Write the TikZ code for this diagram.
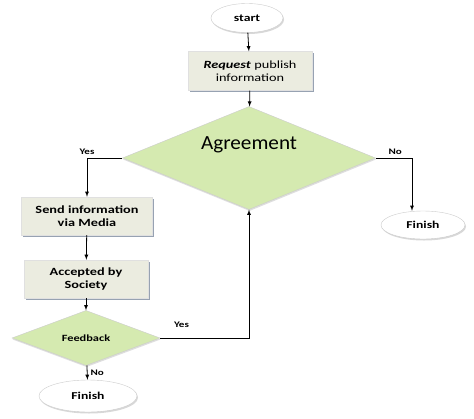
\documentclass[tikz,border=0pt]{standalone}
\usepackage{fontspec}
\setmainfont{Carlito}
\newfontfamily\widefont[FakeStretch=1.3]{Carlito}
\newfontfamily\agreefont[FakeStretch=1.06]{Carlito}
\usetikzlibrary{shapes.geometric,shadows}
\definecolor{diagreen}{RGB}{213,234,176}
\definecolor{boxgrey}{RGB}{235,236,224}
\definecolor{shadowblue}{RGB}{140,152,170}
\tikzstyle{terminal}=[ellipse, draw=black!20, fill=white, inner sep=0pt, drop shadow={shadow xshift=1pt, shadow yshift=-1.5pt, fill=black!30}, font=\widefont\bfseries\fontsize{10.5}{12}\selectfont]
\tikzstyle{process}=[rectangle, draw=black!12, fill=boxgrey, inner sep=0pt, align=center, drop shadow={shadow xshift=1.5pt, shadow yshift=-1.5pt, fill=shadowblue, opacity=0.9}, font=\widefont\bfseries\fontsize{11}{12.5}\selectfont]
\tikzstyle{decision}=[diamond, draw=black!20, fill=diagreen, inner sep=0pt, drop shadow={shadow xshift=0.5pt, shadow yshift=-1.5pt, fill=black!25}]
\tikzstyle{flow}=[draw, thick, -latex]
\tikzstyle{answer}=[font=\widefont\bfseries\fontsize{8.5}{10}\selectfont, inner sep=1pt]

\begin{document}
\begin{tikzpicture}[x=1pt, y=-1pt]
    \fill[white] (0,0) rectangle (474,418);
    \useasboundingbox (0,0) rectangle (474,418);
    % terminals and boxes
    \node[terminal, minimum width=72pt, minimum height=29pt] (start) at (247,18) {start};
    \node[process, minimum width=124pt, minimum height=39pt, font=\widefont\fontsize{11}{12.5}\selectfont] (request) at (250,71) {\textit{\textbf{Request}} publish\\information};
    \node[decision, minimum width=253pt, minimum height=103pt,
          label={[yshift=13pt, font=\agreefont\fontsize{20}{24}\selectfont]center:Agreement}] (agree) at (249,158) {};
    \node[terminal, minimum width=84pt, minimum height=28pt] (finishA) at (423,225) {Finish};
    \node[process, minimum width=131pt, minimum height=38pt] (send) at (87,216) {Send information\\via Media};
    \node[process, minimum width=124pt, minimum height=38pt] (accept) at (86,279) {Accepted by\\Society};
    \node[decision, minimum width=148pt, minimum height=44pt, font=\widefont\bfseries\fontsize{9.5}{11}\selectfont] (feedback) at (86,338) {Feedback};
    \node[terminal, minimum width=98pt, minimum height=32pt] (finishB) at (88,396) {Finish};
    % straight arrows
    \foreach \source/\dest in {start/request, request/agree, send/accept, accept/feedback}
        \path[flow] (\source) -- (\dest);
    % branches
    \path[flow] (agree.west) -| node[answer, above=2pt, pos=0.5] {Yes} (send.north);
    \path[flow] (agree.east) -| node[answer, above=2pt, pos=0.27] {No} ([xshift=-11pt]finishA.north);
    \path[flow] (feedback.east) -| node[answer, above=9pt, pos=0.12] {Yes} (agree.south);
    \path[flow] (feedback) -- node[answer, right=2pt] {No} (finishB);
\end{tikzpicture}
\end{document}
